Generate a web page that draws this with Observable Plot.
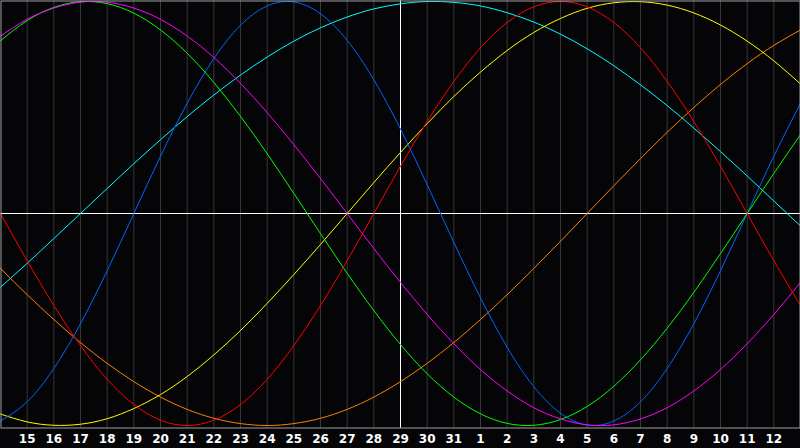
<!DOCTYPE html>
<html>
<head>
<meta charset="utf-8">
<script src="https://cdn.jsdelivr.net/npm/d3@7"></script>
<script src="https://cdn.jsdelivr.net/npm/@observablehq/plot@0.6"></script>
<style>
  html, body { margin: 0; padding: 0; background: #050508; }
  #chart svg { display: block; }
</style>
</head>
<body>
<div id="chart"></div>
<script>
// Day-of-month labels for each day position (index 0 = left edge, 30 = right edge)
const days = [14,15,16,17,18,19,20,21,22,23,24,25,26,27,28,29,30,31,1,2,3,4,5,6,7,8,9,10,11,12,13];
const todayIndex = 15;

// Daily values (-1..1), one per day position
const physical = [-0.979,-0.888,-0.731,-0.520,-0.270,0,0.270,0.520,0.731,0.888,0.979,0.998,0.942,0.817,0.631,0.398,0.136,-0.136,-0.398,-0.631,-0.817,-0.942,-0.998,-0.979,-0.888,-0.731,-0.520,-0.270,0,0.270,0.520];
const emotional = [0,-0.223,-0.434,-0.623,-0.782,-0.901,-0.975,-1,-0.975,-0.901,-0.782,-0.623,-0.434,-0.223,0,0.223,0.434,0.623,0.782,0.901,0.975,1,0.975,0.901,0.782,0.623,0.434,0.223,0,-0.223,-0.434];
const intellectual = [0.815,0.910,0.972,0.999,0.990,0.945,0.866,0.756,0.618,0.458,0.282,0.095,-0.095,-0.282,-0.458,-0.618,-0.756,-0.866,-0.945,-0.990,-0.999,-0.972,-0.910,-0.815,-0.690,-0.541,-0.372,-0.189,0,0.189,0.372];
const intuitive = [0.837,0.916,0.969,0.997,0.997,0.969,0.916,0.837,0.736,0.614,0.476,0.325,0.165,0,-0.165,-0.325,-0.476,-0.614,-0.736,-0.837,-0.916,-0.969,-0.997,-0.997,-0.969,-0.916,-0.837,-0.736,-0.614,-0.476,-0.325];
const aesthetic = [-0.946,-0.983,-0.999,-0.994,-0.968,-0.920,-0.854,-0.769,-0.667,-0.552,-0.424,-0.288,-0.146,0,0.146,0.288,0.424,0.552,0.667,0.769,0.854,0.920,0.968,0.994,0.999,0.983,0.946,0.889,0.813,0.720,0.611];
const awareness = [-0.259,-0.383,-0.5,-0.609,-0.707,-0.793,-0.866,-0.924,-0.966,-0.991,-1,-0.991,-0.966,-0.924,-0.866,-0.793,-0.707,-0.609,-0.5,-0.383,-0.259,-0.131,0,0.131,0.259,0.383,0.5,0.609,0.707,0.793,0.866];
const spiritual = [-0.348,-0.235,-0.118,0,0.118,0.235,0.348,0.457,0.559,0.653,0.738,0.813,0.876,0.927,0.965,0.989,1.000,0.996,0.979,0.947,0.903,0.846,0.777,0.697,0.607,0.509,0.403,0.292,0.177,0.059,-0.059];

const seriesNames = ["Spiritual","Awareness","Aesthetic","Physical","Intellectual","Intuitive","Emotional"];
const seriesValues = [spiritual, awareness, aesthetic, physical, intellectual, intuitive, emotional];
const seriesColors = ["#00ffff","#ff8000","#ffff00","#0066ff","#00ff00","#ff00ff","#ff0000"];

const rows = seriesNames.flatMap((name, s) =>
  seriesValues[s].map((v, i) => ({series: name, i, v}))
);
const gridTicks = d3.range(1, days.length - 1);

const chart = Plot.plot({
  width: 800,
  height: 448,
  marginLeft: 0,
  marginRight: 0,
  marginTop: 0,
  marginBottom: 20,
  style: {
    background: "#050508",
    color: "white",
    fontFamily: "DejaVu Sans",
    fontSize: "12px",
    fontWeight: "bold"
  },
  x: {domain: [0, days.length - 1]},
  y: {domain: [-1, 1], insetTop: 1, insetBottom: 3, axis: null},
  color: {domain: seriesNames, range: seriesColors},
  marks: [
    Plot.ruleX(gridTicks, {stroke: "#383838", strokeWidth: 1}),
    Plot.ruleY([0], {stroke: "white", strokeWidth: 1}),
    Plot.ruleX([todayIndex], {stroke: "white", strokeWidth: 1}),
    Plot.line(rows, {x: "i", y: "v", z: "series", stroke: "series", strokeWidth: 1, curve: "natural"}),
    Plot.frame({stroke: "#a0a0a0", inset: 0.5}),
    Plot.axisX({
      ticks: gridTicks,
      tickFormat: (t) => String(days[t]),
      tickSize: 0,
      tickPadding: 6,
      fill: "white",
      fontSize: 12,
      fontWeight: "bold",
      label: null
    })
  ]
});
document.getElementById("chart").appendChild(chart);
</script>
</body>
</html>
